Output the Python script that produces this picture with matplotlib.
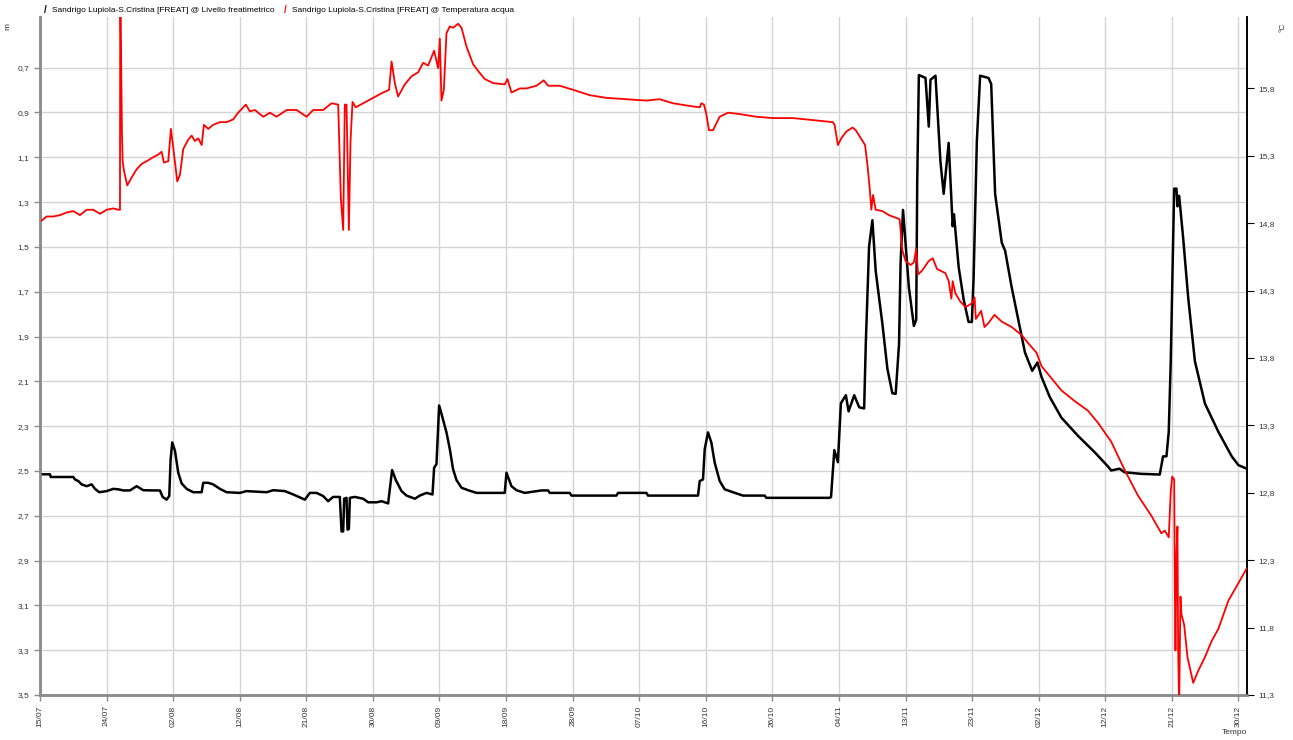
import numpy as np
import matplotlib
matplotlib.use("Agg")
import matplotlib.pyplot as plt

plt.rcParams['font.family'] = ['Liberation Sans', 'DejaVu Sans']

# days since 15/07 and water level (m, from ground)
level_days = [0.24, 1.40, 1.50, 4.67, 4.90, 5.37, 5.84, 6.54, 7.24, 7.71, 8.31, 9.35, 10.27, 10.97,
              11.67, 12.61, 13.55, 14.47, 15.87, 16.81, 17.19, 17.75, 18.12, 18.31, 18.54, 18.92,
              19.38, 19.86, 20.56, 21.48, 22.66, 22.88, 23.58, 24.28, 25.22, 26.16, 28.02, 28.96,
              31.76, 32.69, 34.33, 35.50, 37.13, 37.83, 38.77, 39.69, 40.39, 41.09, 42.03, 42.27,
              42.50, 42.64, 42.97, 43.11, 43.30, 43.44, 44.14, 45.30, 46.00, 47.18, 47.88, 48.80,
              49.04, 49.36, 49.88, 50.68, 51.38, 52.55, 53.24, 54.18, 55.02, 55.25, 55.58, 55.95,
              56.28, 56.98, 57.45, 57.91, 58.39, 59.09, 60.01, 61.19, 65.15, 65.39, 66.09, 66.79,
              67.96, 70.30, 71.22, 71.46, 74.26, 74.50, 80.80, 81.03, 85.01, 85.23, 92.24, 92.48,
              92.94, 93.18, 93.64, 94.11, 94.58, 95.28, 95.98, 97.14, 98.54, 101.58, 101.82, 110.69,
              110.89, 111.35, 111.85, 112.27, 112.97, 113.35, 114.14, 114.84, 115.53, 115.76, 116.22,
              116.69, 117.15, 118.09, 118.79, 119.48, 119.95, 120.42, 120.64, 120.98, 121.80, 122.50,
              122.83, 122.97, 123.20, 124.13, 124.59, 124.83, 125.53, 126.22, 126.68, 127.38, 127.94,
              128.12, 128.78, 129.48, 130.17, 130.63, 130.87, 131.33, 131.79, 132.96, 133.34, 133.89,
              134.82, 135.29, 136.21, 137.14, 138.07, 139.09, 139.83, 140.39, 141.55, 143.18, 145.50,
              147.83, 149.68, 150.16, 151.33, 152.04, 154.39, 156.97, 157.43, 157.91, 158.23, 158.51,
              158.71, 158.99, 159.31, 159.45, 159.69, 160.25, 160.96, 161.90, 163.30, 165.18, 167.06,
              168.00, 169.17]
level_m = [2.515, 2.515, 2.527, 2.527, 2.538, 2.545, 2.560, 2.568, 2.560, 2.580, 2.595, 2.590, 2.580,
           2.582, 2.587, 2.587, 2.568, 2.586, 2.587, 2.587, 2.616, 2.628, 2.612, 2.448, 2.373, 2.410,
           2.508, 2.556, 2.580, 2.595, 2.595, 2.553, 2.553, 2.560, 2.580, 2.595, 2.598, 2.590, 2.595,
           2.586, 2.590, 2.605, 2.628, 2.598, 2.598, 2.612, 2.635, 2.616, 2.616, 2.770, 2.770, 2.624,
           2.620, 2.762, 2.759, 2.620, 2.616, 2.624, 2.640, 2.640, 2.635, 2.645, 2.582, 2.496, 2.541,
           2.590, 2.610, 2.624, 2.610, 2.598, 2.605, 2.485, 2.470, 2.208, 2.245, 2.328, 2.403, 2.493,
           2.541, 2.575, 2.586, 2.598, 2.598, 2.508, 2.568, 2.586, 2.598, 2.587, 2.587, 2.598, 2.598,
           2.610, 2.610, 2.598, 2.598, 2.610, 2.610, 2.545, 2.538, 2.403, 2.328, 2.373, 2.463, 2.545,
           2.582, 2.595, 2.610, 2.610, 2.620, 2.620, 2.616, 2.407, 2.461, 2.198, 2.162, 2.234, 2.162,
           2.216, 2.221, 1.934, 1.499, 1.381, 1.608, 1.844, 2.044, 2.153, 2.156, 1.934, 1.571, 1.335,
           1.680, 1.853, 1.825, 1.208, 0.733, 0.746, 0.963, 0.754, 0.736, 1.117, 1.263, 1.036, 1.408,
           1.354, 1.590, 1.735, 1.835, 1.835, 1.644, 1.027, 0.736, 0.746, 0.773, 1.263, 1.481, 1.517,
           1.680, 1.825, 1.971, 2.053, 2.016, 2.080, 2.170, 2.262, 2.343, 2.416, 2.479, 2.498, 2.490,
           2.506, 2.513, 2.516, 2.435, 2.435, 2.325, 2.011, 1.696, 1.240, 1.240, 1.319, 1.272, 1.460,
           1.728, 2.011, 2.199, 2.325, 2.435, 2.474, 2.490]

# days since 15/07 and water temperature (°C)
temp_days = [0.24, 0.94, 1.86, 2.80, 3.74, 4.67, 5.60, 6.54, 7.47, 8.41, 9.35, 10.27, 10.97,
             11.21, 11.25, 11.39, 11.49, 11.59, 11.77, 12.23, 12.85, 13.55, 14.25, 14.95, 15.87, 16.58,
             17.05, 17.37, 17.98, 18.35, 18.68, 19.24, 19.62, 20.08, 20.78, 21.26, 21.72, 22.18, 22.66,
             22.98, 23.58, 24.28, 25.22, 26.16, 27.08, 27.78, 28.86, 29.42, 30.12, 31.29, 32.23, 33.16,
             34.57, 35.97, 37.37, 38.29, 39.69, 40.87, 41.80, 42.17, 42.50, 42.73, 42.97, 43.30, 43.53,
             43.81, 44.27, 45.30, 46.70, 48.10, 48.94, 49.28, 49.74, 50.20, 51.14, 52.08, 53.01, 53.71,
             54.41, 55.25, 55.81, 56.05, 56.28, 56.61, 56.98, 57.45, 57.91, 58.61, 59.09, 59.79, 60.71,
             61.41, 62.35, 63.51, 65.15, 65.53, 66.09, 67.26, 68.19, 69.59, 70.62, 71.22, 72.86, 74.72,
             77.06, 79.40, 82.20, 85.01, 86.87, 88.73, 91.07, 92.48, 92.71, 93.08, 93.41, 93.78, 94.34,
             95.28, 96.44, 98.08, 100.42, 102.75, 105.55, 107.43, 109.29, 111.15, 111.39, 111.85,
             112.33, 113.03, 113.90, 114.36, 115.30, 115.66, 116.00, 116.32, 116.54, 116.78, 117.15,
             118.09, 119.01, 120.50, 120.88, 121.34, 122.04, 122.50, 122.83, 123.10, 123.67, 124.59,
             125.15, 125.75, 126.92, 127.38, 127.76, 127.94, 128.32, 129.00, 129.70, 130.17, 130.73,
             131.01, 131.19, 131.57, 131.93, 132.40, 132.96, 133.80, 134.82, 136.21, 137.61, 138.53,
             139.69, 140.39, 141.32, 143.18, 145.05, 146.89, 148.30, 150.16, 152.04, 153.91, 155.79,
             157.19, 157.67, 158.23, 158.51, 158.71, 158.99, 159.09, 159.17, 159.31, 159.45, 159.55,
             159.69, 159.87, 160.01, 160.39, 160.86, 161.66, 162.36, 163.30, 164.24, 165.18, 166.59,
             168.00, 169.17]
temp_c = [14.82, 14.85, 14.85, 14.86, 14.88, 14.89, 14.86, 14.90, 14.90, 14.87, 14.90,
          14.91, 14.90, 14.90, 16.60, 15.92, 15.46, 15.26, 15.19, 15.08, 15.14, 15.20, 15.24, 15.26,
          15.29, 15.31, 15.33, 15.25, 15.26, 15.50, 15.36, 15.11, 15.16, 15.35, 15.42, 15.45, 15.41,
          15.43, 15.38, 15.53, 15.50, 15.53, 15.55, 15.55, 15.57, 15.62, 15.68, 15.63, 15.64, 15.59,
          15.62, 15.59, 15.64, 15.64, 15.59, 15.64, 15.64, 15.69, 15.68, 14.99, 14.75, 15.68, 15.68,
          14.75, 15.41, 15.70, 15.66, 15.69, 15.73, 15.77, 15.79, 16.00, 15.84, 15.74, 15.83, 15.89,
          15.92, 15.99, 15.97, 16.08, 15.95, 16.17, 15.71, 15.79, 16.21, 16.26, 16.25, 16.28, 16.25,
          16.11, 15.98, 15.93, 15.87, 15.84, 15.83, 15.87, 15.77, 15.80, 15.80, 15.82, 15.86, 15.82,
          15.82, 15.79, 15.75, 15.73, 15.72, 15.71, 15.72, 15.69, 15.67, 15.66, 15.69, 15.68, 15.61,
          15.49, 15.49, 15.59, 15.62, 15.61, 15.59, 15.58, 15.58, 15.57, 15.56, 15.55, 15.53, 15.38,
          15.43, 15.48, 15.51, 15.49, 15.41, 15.38, 15.23, 15.05, 14.90, 15.01, 14.90, 14.89, 14.86,
          14.83, 14.60, 14.52, 14.49, 14.51, 14.61, 14.42, 14.45, 14.52, 14.54, 14.46, 14.43, 14.37,
          14.24, 14.37, 14.28, 14.22, 14.18, 14.19, 14.21, 14.25, 14.09, 14.12, 14.15, 14.03, 14.06,
          14.12, 14.07, 14.03, 13.97, 13.91, 13.84, 13.74, 13.68, 13.56, 13.48, 13.41, 13.32, 13.18,
          12.97, 12.78, 12.63, 12.50, 12.52, 12.47, 12.81, 12.92, 12.90, 12.05, 11.63, 12.34, 12.55,
          11.63, 11.20, 12.03, 11.90, 11.82, 11.58, 11.39, 11.48, 11.58, 11.70, 11.79, 12.00, 12.13,
          12.24]

date_labels = ['15/07', '24/07', '02/08', '12/08', '21/08', '30/08', '09/09', '18/09', '28/09',
               '07/10', '16/10', '26/10', '04/11', '13/11', '23/11', '02/12', '12/12', '21/12', '30/12']
level_ticks = [0.7, 0.9, 1.1, 1.3, 1.5, 1.7, 1.9, 2.1, 2.3, 2.5, 2.7, 2.9, 3.1, 3.3, 3.5]
temp_ticks = [11.3, 11.8, 12.3, 12.8, 13.3, 13.8, 14.3, 14.8, 15.3, 15.8]

fig = plt.figure(figsize=(12.93, 7.40), dpi=100)
ax = fig.add_axes([40 / 1293, 1 - 695 / 740, 1207 / 1293, 678 / 740])
ax2 = ax.twinx()

ax.plot(level_days, level_m, color='black', lw=1.8, zorder=3)
ax2.plot(temp_days, temp_c, color='#ff0000', lw=1.3, zorder=3)

ax.set_xlim(0, 169.2)
ax.set_ylim(3.5, 0.474)
ax2.set_ylim(11.3, 16.33)

ax.set_xticks(np.linspace(0, 168, len(date_labels)))
ax.set_xticklabels(date_labels, rotation=90, fontsize=6)
ax.set_yticks(level_ticks)
ax.set_yticklabels([f'{v:.1f}'.replace('.', ',') for v in level_ticks], fontsize=6)
ax2.set_yticks(temp_ticks)
ax2.set_yticklabels([f'{v:.1f}'.replace('.', ',') for v in temp_ticks], fontsize=6)

ax.grid(True, color='#d4d4d4', lw=1.0)
ax.set_axisbelow(True)

for a in (ax, ax2):
    a.spines['top'].set_visible(False)
    a.spines['left'].set_color('#8c8c8c')
    a.spines['left'].set_linewidth(1.8)
    a.spines['bottom'].set_color('#8c8c8c')
    a.spines['bottom'].set_linewidth(1.8)
    a.spines['right'].set_color('black')
    a.spines['right'].set_linewidth(1.2)
ax.tick_params(axis='both', colors='#8c8c8c', labelcolor='#333333', length=4, width=1)
ax2.tick_params(axis='y', colors='black', labelcolor='#333333', length=5, width=0.8)

fig.text(8 / 1293, 1 - 27 / 740, 'm', rotation=90, fontsize=6, ha='center', va='center', color='#333333')
fig.text(1283 / 1293, 1 - 27 / 740, '°C', rotation=90, fontsize=6, ha='center', va='center', color='#333333')
fig.text(1235 / 1293, 1 - 733 / 740, 'Tempo', fontsize=6, ha='center', va='center', color='#333333')

# legend above the plot
fig.text(45 / 1293, 1 - 10 / 740, '/', fontsize=7, fontweight='bold', color='black', ha='center', va='center')
fig.text(52 / 1293, 1 - 10 / 740, 'Sandrigo Lupiola-S.Cristina [FREAT] @ Livello freatimetrico',
         fontsize=6, color='black', ha='left', va='center')
fig.text(285 / 1293, 1 - 10 / 740, '/', fontsize=7, fontweight='bold', color='#ff0000', ha='center', va='center')
fig.text(292 / 1293, 1 - 10 / 740, 'Sandrigo Lupiola-S.Cristina [FREAT] @ Temperatura acqua',
         fontsize=6, color='black', ha='left', va='center')

fig.savefig('out.png', dpi=100)
